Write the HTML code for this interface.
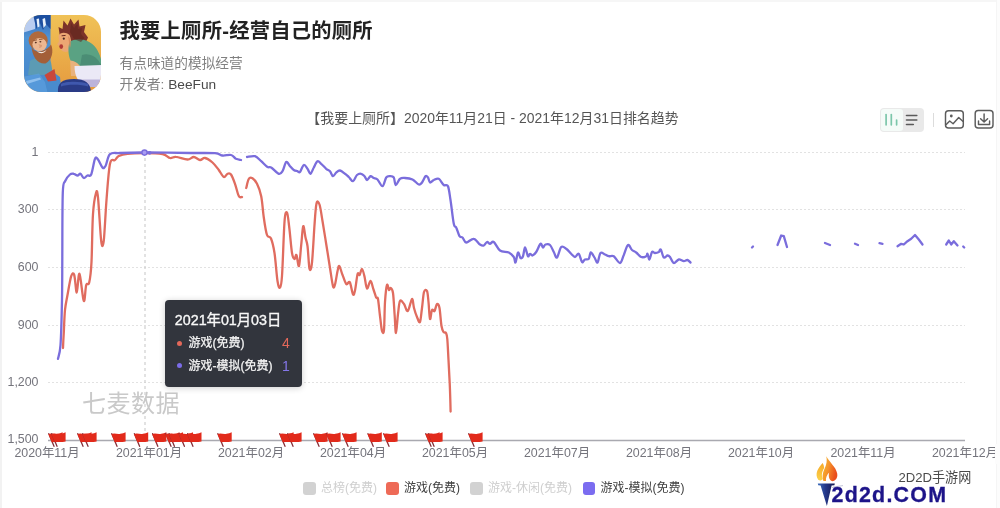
<!DOCTYPE html>
<html lang="zh-CN">
<head>
<meta charset="utf-8">
<title>我要上厕所-经营自己的厕所</title>
<style>
html,body{margin:0;padding:0;background:#fff;}
body{width:1000px;height:508px;position:relative;overflow:hidden;filter:blur(0.45px);font-family:"Liberation Sans","Noto Sans CJK SC",sans-serif;}
.edgeL{position:absolute;left:0;top:0;width:1.5px;height:508px;background:#f2f2f2;}
.edgeR{position:absolute;left:995.5px;top:0;width:4.5px;height:508px;background:#fcfcfc;border-left:1px solid #f5f5f5;box-sizing:border-box;}
.clipR{position:absolute;left:995px;top:444px;width:5px;height:20px;background:#fcfcfc;}
.edgeT{position:absolute;left:0;top:0;width:1000px;height:1.5px;background:#f6f6f6;}
.icon{position:absolute;left:24px;top:15px;width:77px;height:77px;border-radius:17px;overflow:hidden;}
.title{position:absolute;left:119.5px;top:16px;font-size:20.3px;line-height:30px;font-weight:bold;color:#222;white-space:nowrap;letter-spacing:0.25px;}
.sub{position:absolute;left:119.5px;top:53.6px;font-size:13.7px;line-height:20px;color:#808080;white-space:nowrap;}
.dev{position:absolute;left:119.5px;top:75.2px;font-size:13.7px;line-height:20px;color:#808080;white-space:nowrap;}
.dev b{font-weight:normal;color:#4a4a4a;}
.ctitle{position:absolute;left:0;width:985px;top:108px;text-align:center;font-size:13.95px;line-height:20px;color:#555;white-space:nowrap;}
.chart{position:absolute;left:0;top:0;width:1000px;height:508px;}
.ax{font-size:12.4px;fill:#74747c;font-family:"Liberation Sans","Noto Sans CJK SC",sans-serif;}
.wm{font-size:24px;fill:#c9c9c9;font-family:"Liberation Sans","Noto Sans CJK SC",sans-serif;letter-spacing:0.5px;}
.tip{position:absolute;left:164.5px;top:300px;width:137.5px;height:87px;background:#32353d;border-radius:4px;color:#fff;box-shadow:0 1px 6px rgba(0,0,0,.2);}
.tip .d{position:absolute;left:10.3px;top:10px;font-size:14.3px;line-height:20px;white-space:nowrap;color:#f8f8f8;-webkit-text-stroke:0.35px #f8f8f8;}
.tip .r{position:absolute;left:0;width:100%;height:20px;font-size:12px;line-height:20px;white-space:nowrap;color:#f6f6f6;-webkit-text-stroke:0.25px #f6f6f6;}
.tip .r i{position:absolute;left:12.4px;top:7.6px;width:5.2px;height:5.2px;border-radius:50%;}
.tip .r span{position:absolute;left:24px;top:0;}
.tip .r em{position:absolute;font-style:normal;top:0;font-size:14px;-webkit-text-stroke:0;}
.leg{position:absolute;top:478px;height:20px;line-height:20px;font-size:12px;white-space:nowrap;}
.leg i{position:absolute;left:0;top:4px;width:12.5px;height:12.5px;border-radius:3px;}
.leg span{position:absolute;left:18px;top:0;}
.tog{position:absolute;left:879.8px;top:107.5px;width:44.5px;height:24.6px;border-radius:4px;background:#e9e9e9;}
.tog .on{position:absolute;left:1.5px;top:1.5px;width:21.5px;height:21.5px;border-radius:3px;background:#f5fbf8;}
.sep{position:absolute;left:932.6px;top:113px;width:1px;height:14px;background:#dcdcdc;}
.logo1{position:absolute;left:898.5px;top:468.3px;font-size:13.1px;line-height:20px;color:#4a4a4a;white-space:nowrap;}
.logo2{position:absolute;left:831.5px;top:480.5px;font-size:21.4px;line-height:28px;font-weight:bold;color:#1d1489;white-space:nowrap;letter-spacing:1.25px;-webkit-text-stroke:0.3px #1d1489;}
</style>
</head>
<body>
<div class="edgeL"></div><div class="edgeT"></div><div class="edgeR"></div>

<div class="icon">
<svg width="77" height="77" viewBox="0 0 77 77">
<defs>
<linearGradient id="ybg" x1="0" y1="0" x2="0" y2="1"><stop offset="0" stop-color="#f0c257"/><stop offset="1" stop-color="#e59a3e"/></linearGradient>
<linearGradient id="bbg" x1="0" y1="0" x2="0" y2="1"><stop offset="0" stop-color="#2f62b4"/><stop offset="0.3" stop-color="#4f93d4"/><stop offset="1" stop-color="#4685c9"/></linearGradient>
<filter id="ib" x="-5%" y="-5%" width="110%" height="110%"><feGaussianBlur stdDeviation="0.7"/></filter>
</defs>
<rect width="77" height="77" fill="url(#ybg)"/>
<g filter="url(#ib)">
<rect x="-2" y="-2" width="28.5" height="82" fill="url(#bbg)"/>
<path d="M-2,56 L22,52 L36,62 L38,80 L-2,80 Z" fill="#4a8bcd"/>
<path d="M-2,-2 L12,-2 L11,14 L-2,18 Z" fill="#b9cdf0"/>
<path d="M9,-1 L26.5,-1 L26.5,14 L22,9 L19,15 L16,8 L12.5,14 L10.5,6 Z" fill="#1f4fa0"/>
<path d="M12.5,4 L15,3.5 L15.5,11.5 L13.5,12.5 Z M18.5,4 L21,3 L22,10 L19.5,13 Z" fill="#e6f1fb"/>
<!-- old man body -->
<path d="M6,46 C10,42 22,42 27,47 L29,60 L4,60 Z" fill="#5b9bb4"/>
<!-- old man head -->
<ellipse cx="14.2" cy="25.4" rx="9.6" ry="9.2" fill="#b06a3e"/>
<ellipse cx="15.6" cy="29.6" rx="7.2" ry="6.6" fill="#ecb791"/>
<path d="M7.5,31 C9,36 14,37.5 18,36 C21.5,35 25,32.5 27,29.5 C30,36 28,45 21.5,48.5 C14,49.5 8,42 7.5,31 Z" fill="#a35f38"/>
<path d="M13,36 C16,38 20,37 22.5,35 C21,38 16,40 13,36 Z" fill="#f3e6da"/>
<!-- boy hair -->
<path d="M36,22 L34.5,12 L38.5,14 L39.5,5.5 L43.5,10.5 L46.5,3.5 L50,9.5 L54.5,4.5 L55.5,11.5 L61.5,10 L60,17 L64,22.5 L61.5,28 L55,31.5 L46,28 L41,19 Z" fill="#7b3329"/>
<!-- boy face -->
<path d="M34.5,21 C36,17 42,17 45.5,20 C48,25 47.5,33 44,36.5 C40,38 36,35 35.5,31 L33.2,29.5 L35,26.5 Z" fill="#eca773"/>
<ellipse cx="37.2" cy="31.6" rx="1.9" ry="2.4" fill="#b03a36"/>
<!-- legs -->
<path d="M46,44 L55,46 L54,61 L47,61 Z" fill="#e9b27b"/>
<!-- shirt -->
<path d="M45.5,27 C52,22 66,24 72,33 C76,39 78,46 78,51 L56,51 C53,47 50,46 46.5,45.5 C44,40 44,32 45.5,27 Z" fill="#5aa283"/>
<path d="M58,40 C63,38 70,40 74,45 L78,51 L56,51 Z" fill="#4b8d74"/>
<!-- toilet -->
<path d="M50.5,51 L78,50 L78,65 L54,65 C51.5,61 50.5,56 50.5,51 Z" fill="#ebe9f6"/>
<path d="M54,64.5 L78,64.5 L78,72 L57,72 Z" fill="#bcb3da"/>
<!-- plunger -->
<path d="M20.5,60 L30.5,54 L32.5,65.5 L24,66.5 Z" fill="#c9463a"/>
<!-- dark base -->
<path d="M34,78 C33,68 38,64 50,64 C61,64 67,68 67,78 Z" fill="#2b3b86"/>
<path d="M37,69 C41,66 58,66 64,69 L64,71.5 C58,69 42,69 37,71.5 Z" fill="#3f58ad"/>
<ellipse cx="11.8" cy="27.6" rx="1" ry="0.8" fill="#5a3424"/>
<ellipse cx="16.4" cy="26.8" rx="1" ry="0.8" fill="#5a3424"/>
<path d="M9.5,25.6 L13,24.8 M15,24.4 L18.6,24.2" stroke="#8a4e2c" stroke-width="0.9" fill="none"/>
<path d="M14,29 C15.5,30 16,31.5 15,33 C17,33 18.4,31.6 18,30 Z" fill="#d99a74"/>
<ellipse cx="39.8" cy="23.6" rx="1" ry="1.2" fill="#4a2a22"/>
<path d="M37.6,20.8 L41.6,20.4" stroke="#6a2c24" stroke-width="1" fill="none"/>
<path d="M44,21 C46.5,23 47.5,28 46,33 C45,30 45,25 44,21 Z" fill="#d98c5e"/>
<path d="M-2,62 L15,58.5 L21,67 L24,80 L-2,80 Z" fill="#5b9fe0" opacity="0.7"/>
<path d="M2,66 L16,62.6 L17,64.4 L3,69 Z" fill="#9cc8f2" opacity="0.8"/>
<path d="M47,8 L50,13 L53.5,8.5 L54,14 L58,13 L57,19 L60.5,23 L57,27 L50,24 L46,17 Z" fill="#5e231f" opacity="0.55"/>
</g>

</svg>
</div>

<div class="title">我要上厕所-经营自己的厕所</div>
<div class="sub">有点味道的模拟经营</div>
<div class="dev">开发者: <b>BeeFun</b></div>

<div class="ctitle">【我要上厕所】2020年11月21日 - 2021年12月31日排名趋势</div>

<div class="tog"><div class="on"></div>
<svg style="position:absolute;left:0;top:0" width="45" height="25" viewBox="0 0 45 25">
<g stroke="#7cc6aa" stroke-width="1.7" stroke-linecap="round"><line x1="6.1" y1="6.5" x2="6.1" y2="16.8"/><line x1="11.3" y1="6.5" x2="11.3" y2="16.8"/><line x1="16.6" y1="12.1" x2="16.6" y2="16.8"/></g>
<g stroke="#5a5a5a" stroke-width="1.6" stroke-linecap="round"><line x1="26.5" y1="7.5" x2="36.8" y2="7.5"/><line x1="26.5" y1="12" x2="36.8" y2="12"/><line x1="26.5" y1="16.5" x2="33.3" y2="16.5"/></g>
</svg>
</div>
<div class="sep"></div>
<svg style="position:absolute;left:943px;top:108px" width="54" height="23" viewBox="943 108 54 23">
<g fill="none" stroke="#5c5c5c" stroke-width="1.45" stroke-linecap="round" stroke-linejoin="round">
<rect x="945.5" y="110.8" width="17.8" height="17.1" rx="3"/>
<path d="M946.2,124.6 L949.7,121 L953.1,123.7 L958.7,117.5 L962.8,121.2"/>
<rect x="975.2" y="110.5" width="17.8" height="17.4" rx="3"/>
<path d="M984.1,114 L984.1,121.6 M980.6,118.7 L984.1,122.1 L987.6,118.7 M978.5,121 L978.5,124.4 L989.6,124.4 L989.6,121"/>
</g>
<circle cx="951.3" cy="116" r="1.4" fill="#5c5c5c"/>
</svg>

<svg class="chart" width="1000" height="508" viewBox="0 0 1000 508">
<line x1="48" y1="152.5" x2="965" y2="152.5" stroke="#e2e2e2" stroke-width="1" stroke-dasharray="2,2"/>
<line x1="48" y1="209.5" x2="965" y2="209.5" stroke="#e2e2e2" stroke-width="1" stroke-dasharray="2,2"/>
<line x1="48" y1="267.5" x2="965" y2="267.5" stroke="#e2e2e2" stroke-width="1" stroke-dasharray="2,2"/>
<line x1="48" y1="325.5" x2="965" y2="325.5" stroke="#e2e2e2" stroke-width="1" stroke-dasharray="2,2"/>
<line x1="48" y1="382.5" x2="965" y2="382.5" stroke="#e2e2e2" stroke-width="1" stroke-dasharray="2,2"/>
<line x1="145" y1="152" x2="145" y2="440" stroke="#cfcfcf" stroke-width="1.2" stroke-dasharray="3,3"/>
<line x1="48" y1="440.5" x2="965" y2="440.5" stroke="#a9a9b0" stroke-width="1.3"/>
<path d="M63.0,348.0C63.1,345.4 63.4,338.8 63.8,332.5C64.1,326.2 64.4,316.2 65.0,310.0C65.6,303.8 66.5,300.6 67.5,295.0C68.5,289.4 70.1,279.6 71.2,276.2C72.4,272.9 73.3,272.3 74.2,275.0C75.2,277.7 75.9,292.7 76.8,292.5C77.6,292.3 78.3,272.3 79.5,273.8C80.7,275.2 82.6,299.1 83.8,301.0C84.9,302.9 85.3,288.1 86.2,285.0C87.2,281.9 88.4,286.3 89.2,282.5C90.1,278.7 90.9,273.4 91.5,262.0C92.1,250.6 92.2,225.5 93.0,214.0C93.8,202.5 95.2,195.8 96.0,193.0C96.8,190.2 97.1,189.5 98.0,197.5C98.9,205.5 100.3,233.8 101.2,241.0C102.2,248.2 102.9,247.3 103.8,240.5C104.6,233.7 105.5,212.8 106.5,200.0C107.5,187.2 108.6,170.4 110.0,163.8C111.4,157.1 113.5,161.3 115.0,160.0C116.5,158.7 116.7,157.0 118.8,156.0C120.8,155.0 123.1,154.2 127.5,153.8C131.9,153.2 139.2,153.0 145.0,153.0C150.8,153.0 158.3,153.2 162.5,154.0C166.7,154.8 167.8,157.5 170.0,158.0C172.2,158.5 173.1,156.5 176.0,156.8C178.9,157.0 184.5,159.5 187.5,159.5C190.5,159.5 191.7,156.9 193.8,157.0C195.8,157.1 198.1,159.8 200.0,160.0C201.9,160.2 202.9,157.6 205.0,158.0C207.1,158.4 210.2,160.5 212.5,162.5C214.8,164.5 216.9,167.6 218.8,170.0C220.6,172.4 222.3,176.4 223.8,177.0C225.2,177.6 226.3,174.2 227.5,173.8C228.7,173.3 229.8,172.8 231.0,174.5C232.2,176.2 233.7,180.2 235.0,183.8C236.3,187.3 237.6,193.8 238.8,196.0C239.9,198.2 241.5,196.8 242.0,197.0" fill="none" stroke="#e06c5f" stroke-width="2.3" stroke-linecap="round" stroke-linejoin="round"/>
<path d="M246.2,188.0C246.7,186.5 247.7,180.4 248.8,178.8C249.8,177.1 251.1,177.4 252.5,178.2C253.9,179.1 255.5,180.8 257.0,183.8C258.5,186.8 260.1,190.6 261.2,196.2C262.4,201.9 262.8,211.0 263.8,217.5C264.7,224.0 265.8,231.5 267.0,235.0C268.2,238.5 269.8,235.5 271.0,238.5C272.2,241.5 273.4,245.9 274.5,253.0C275.6,260.1 276.6,275.2 277.5,281.0C278.4,286.8 279.2,288.3 280.0,287.5C280.8,286.7 281.2,286.9 282.0,276.0C282.8,265.1 283.7,232.6 284.5,222.0C285.3,211.4 286.2,211.7 287.0,212.5C287.8,213.3 288.4,220.2 289.2,227.0C290.1,233.8 291.1,247.7 292.0,253.0C292.9,258.3 293.8,258.7 294.5,259.0C295.2,259.3 295.8,253.8 296.5,255.0C297.2,256.2 298.2,267.7 299.0,266.0C299.8,264.3 300.5,251.6 301.2,245.0C302.0,238.4 302.5,227.5 303.2,226.2C304.0,225.0 304.8,234.2 305.5,237.5C306.2,240.8 306.8,240.8 307.5,246.0C308.2,251.2 308.8,266.0 309.5,268.8C310.2,271.5 311.2,269.8 312.0,262.5C312.8,255.2 313.8,234.8 314.5,225.0C315.2,215.2 315.7,206.9 316.5,203.5C317.3,200.1 318.5,201.6 319.5,204.5C320.5,207.4 321.4,214.4 322.5,221.0C323.6,227.6 325.0,236.2 326.2,244.0C327.5,251.8 328.9,261.0 330.0,268.0C331.1,275.0 332.2,283.5 333.0,286.2C333.8,289.0 334.2,287.0 335.0,284.5C335.8,282.0 336.8,274.3 337.5,271.2C338.2,268.2 338.5,265.5 339.2,266.0C340.0,266.5 341.1,271.0 342.2,274.0C343.4,277.0 345.0,282.6 346.2,284.0C347.5,285.4 348.6,280.5 349.8,282.2C350.9,284.0 352.1,293.1 353.0,294.5C353.9,295.9 354.2,293.9 355.0,290.5C355.8,287.1 356.8,276.6 357.6,274.0C358.4,271.4 358.9,275.8 359.6,275.0C360.3,274.2 361.2,268.8 362.0,269.0C362.8,269.2 363.7,273.2 364.5,276.5C365.3,279.8 366.0,287.8 367.0,288.5C368.0,289.2 369.4,280.8 370.5,281.0C371.6,281.2 372.5,286.8 373.5,289.5C374.5,292.2 375.5,295.9 376.2,297.5C377.0,299.1 377.4,295.9 378.0,299.0C378.6,302.1 379.3,310.7 380.0,316.0C380.7,321.3 381.3,328.7 382.0,331.0C382.7,333.3 383.5,334.8 384.0,330.0C384.5,325.2 384.5,309.5 385.0,302.0C385.5,294.5 386.3,287.0 387.0,285.0C387.7,283.0 388.4,289.5 389.0,290.0C389.6,290.5 390.0,287.5 390.7,288.0C391.4,288.5 392.3,288.3 393.0,293.0C393.7,297.7 394.2,309.3 394.7,316.0C395.2,322.7 395.4,333.3 396.0,333.0C396.6,332.7 397.3,319.3 398.0,314.0C398.7,308.7 399.0,302.7 400.0,301.0C401.0,299.3 402.7,302.3 404.0,304.0C405.3,305.7 406.4,311.8 407.8,311.0C409.1,310.2 411.0,299.5 412.0,299.0C413.0,298.5 413.2,305.0 414.0,308.0C414.8,311.0 416.0,314.7 417.0,317.0C418.0,319.3 419.2,323.5 420.0,322.0C420.8,320.5 421.3,313.0 422.0,308.0C422.7,303.0 423.2,294.8 424.0,292.0C424.8,289.2 426.2,289.3 427.0,291.0C427.8,292.7 428.0,297.3 428.5,302.0C429.0,306.7 429.4,317.7 430.0,319.0C430.6,320.3 431.2,311.3 432.0,310.0C432.8,308.7 433.7,312.0 434.5,311.0C435.3,310.0 436.2,304.5 437.0,304.0C437.8,303.5 438.8,304.3 439.5,308.0C440.2,311.7 440.8,322.0 441.5,326.0C442.2,330.0 442.8,330.8 443.5,332.0C444.2,333.2 445.4,331.8 446.0,333.0C446.6,334.2 446.9,334.5 447.3,339.0C447.7,343.5 448.1,352.7 448.5,360.0C448.9,367.3 449.3,374.4 449.7,383.0C450.1,391.6 450.5,406.8 450.6,411.5" fill="none" stroke="#e06c5f" stroke-width="2.3" stroke-linecap="round" stroke-linejoin="round"/>
<path d="M58.0,358.8C58.4,356.5 59.8,354.8 60.5,345.0C61.2,335.2 61.7,314.7 62.0,300.0C62.3,285.3 62.2,274.9 62.3,257.0C62.4,239.1 62.3,205.2 62.8,192.5C63.3,179.8 64.0,184.0 65.2,181.0C66.4,178.0 68.6,175.7 70.0,174.5C71.4,173.3 72.5,173.6 73.8,173.8C75.0,173.9 76.4,175.5 77.5,175.5C78.6,175.5 79.5,173.3 80.5,173.8C81.5,174.2 82.6,177.7 83.8,178.0C84.9,178.3 86.2,176.1 87.5,175.5C88.8,174.9 90.0,177.3 91.2,174.5C92.5,171.7 93.9,161.2 95.0,158.8C96.1,156.2 96.8,158.0 98.0,159.5C99.2,161.0 101.2,166.4 102.5,167.5C103.8,168.6 104.2,168.2 105.5,166.0C106.8,163.8 107.6,156.4 110.0,154.2C112.4,152.1 114.2,153.3 120.0,153.0C125.8,152.7 133.3,152.5 145.0,152.5C156.7,152.5 178.3,152.9 190.0,153.0C201.7,153.1 209.6,152.8 215.0,153.2C220.4,153.7 219.8,155.2 222.5,155.5C225.2,155.8 228.8,154.5 231.0,155.0C233.2,155.5 234.3,157.9 236.0,158.8C237.7,159.6 240.2,159.8 241.0,160.0" fill="none" stroke="#7a6ddc" stroke-width="2.3" stroke-linecap="round" stroke-linejoin="round"/>
<path d="M247.0,157.0C248.3,156.9 252.6,155.5 255.0,156.2C257.4,157.0 259.2,159.5 261.2,161.2C263.3,163.0 265.8,166.0 267.5,167.0C269.2,168.0 269.4,166.4 271.2,167.5C273.1,168.6 276.9,173.1 278.8,173.8C280.6,174.4 281.2,173.2 282.5,171.2C283.8,169.3 285.0,162.8 286.2,162.0C287.5,161.2 288.8,164.9 290.0,166.2C291.2,167.6 292.5,169.2 293.8,170.0C295.0,170.8 296.5,170.9 297.5,171.2C298.5,171.6 299.0,173.0 300.0,172.0C301.0,171.0 302.5,165.5 303.8,165.0C305.0,164.5 306.4,167.3 307.5,168.8C308.6,170.2 309.5,174.0 310.5,173.8C311.5,173.5 312.6,169.6 313.8,167.5C314.9,165.4 316.2,161.9 317.5,161.2C318.8,160.6 319.8,162.5 321.2,163.8C322.7,165.0 324.8,167.5 326.2,168.8C327.7,170.0 328.9,170.0 330.0,171.2C331.1,172.5 332.0,176.0 333.0,176.2C334.0,176.5 335.1,173.5 336.2,172.5C337.4,171.5 338.5,170.3 340.0,170.5C341.5,170.7 343.5,172.7 345.0,173.8C346.5,174.8 347.4,175.8 348.8,177.0C350.1,178.2 351.6,181.6 353.0,181.2C354.4,180.9 355.6,176.2 357.0,175.0C358.4,173.8 360.0,173.5 361.2,173.8C362.5,174.0 363.5,175.2 364.5,176.2C365.5,177.3 366.0,180.0 367.0,180.0C368.0,180.0 369.4,176.6 370.5,176.2C371.6,175.9 372.6,177.5 373.8,178.0C374.9,178.5 376.0,178.1 377.5,179.5C379.0,180.9 381.0,186.6 382.5,186.2C384.0,185.9 385.0,179.2 386.2,177.5C387.5,175.8 388.8,176.2 390.0,176.2C391.2,176.2 392.8,176.0 393.8,177.5C394.7,179.0 394.7,184.8 395.8,185.0C396.8,185.2 398.5,179.9 400.0,178.8C401.5,177.6 402.9,177.9 405.0,178.0C407.1,178.1 410.2,178.4 412.5,179.5C414.8,180.6 417.2,184.0 418.8,184.5C420.3,185.0 420.9,183.9 422.0,182.5C423.1,181.1 424.5,177.1 425.5,176.2C426.5,175.4 427.2,176.5 428.0,177.5C428.8,178.5 429.0,182.1 430.0,182.5C431.0,182.9 432.3,180.6 433.8,180.0C435.2,179.4 437.1,177.9 438.8,178.8C440.4,179.6 442.2,183.8 443.8,185.0C445.3,186.2 446.9,183.8 448.0,186.2C449.1,188.8 449.5,193.8 450.5,200.0C451.5,206.2 452.8,219.2 453.8,223.8C454.7,228.3 455.3,225.4 456.2,227.5C457.2,229.6 458.5,234.6 459.5,236.2C460.5,237.9 461.4,236.5 462.5,237.5C463.6,238.5 464.4,242.3 466.2,242.5C468.1,242.7 471.5,238.4 473.8,238.8C476.0,239.1 478.3,243.4 480.0,244.5C481.7,245.6 482.6,245.9 483.8,245.5C484.9,245.1 486.0,242.3 487.0,242.0C488.0,241.7 488.9,243.8 490.0,243.8C491.1,243.8 492.1,240.9 493.8,242.0C495.4,243.1 497.5,248.8 500.0,250.5C502.5,252.2 506.5,251.4 508.8,252.5C511.0,253.6 512.6,255.3 513.8,257.0C514.9,258.7 514.8,263.2 515.5,262.5C516.2,261.8 517.2,253.2 518.0,252.5C518.8,251.8 519.7,257.4 520.5,258.0C521.3,258.6 522.2,258.0 523.0,256.2C523.8,254.5 524.2,247.5 525.0,247.5C525.8,247.5 527.2,255.2 528.0,256.2C528.8,257.3 529.2,253.9 530.0,253.8C530.8,253.6 531.5,255.8 532.5,255.5C533.5,255.2 534.9,254.0 536.2,252.0C537.6,250.0 539.4,244.5 540.5,243.8C541.6,243.0 542.2,247.4 543.0,247.5C543.8,247.6 544.3,244.9 545.5,244.5C546.7,244.1 548.6,243.8 550.0,245.0C551.4,246.2 552.6,249.9 553.8,252.0C554.9,254.1 555.8,258.3 557.0,257.5C558.2,256.7 559.7,248.5 561.2,247.0C562.8,245.5 564.6,247.6 566.2,248.8C567.9,249.9 569.8,252.4 571.2,253.8C572.7,255.1 573.8,257.0 575.0,257.0C576.2,257.0 577.6,252.9 578.8,253.8C579.9,254.6 581.0,261.0 582.0,262.0C583.0,263.0 583.9,260.0 585.0,259.5C586.1,259.0 587.8,259.9 588.8,258.8C589.7,257.6 589.8,252.7 590.8,252.5C591.7,252.3 593.4,255.8 594.5,257.5C595.6,259.2 596.5,263.2 597.5,262.5C598.5,261.8 599.2,254.3 600.5,253.0C601.8,251.7 603.6,254.0 605.0,254.5C606.4,255.0 607.3,256.0 608.8,256.2C610.2,256.5 611.9,255.1 613.8,256.2C615.6,257.4 618.3,263.2 620.0,263.0C621.7,262.8 622.4,258.0 623.8,255.0C625.1,252.0 626.6,245.8 628.0,245.0C629.4,244.2 630.6,248.8 632.0,250.0C633.4,251.2 634.7,251.3 636.2,252.5C637.8,253.7 639.6,256.4 641.2,257.0C642.9,257.6 645.2,256.8 646.2,256.2C647.3,255.7 647.0,253.2 647.5,253.8C648.0,254.3 648.8,259.8 649.5,259.5C650.2,259.2 651.1,253.1 652.0,252.0C652.9,250.9 653.9,253.0 655.0,253.0C656.1,253.0 657.8,252.6 658.8,252.0C659.7,251.4 659.9,248.6 660.8,249.5C661.6,250.4 662.6,256.5 663.8,257.5C664.9,258.5 666.5,255.6 667.5,255.5C668.5,255.4 669.0,255.8 670.0,257.0C671.0,258.2 672.3,262.6 673.8,263.0C675.2,263.4 677.1,259.8 678.8,259.5C680.4,259.2 682.3,261.2 683.8,261.2C685.2,261.3 686.4,259.8 687.5,260.0C688.6,260.2 690.0,262.1 690.5,262.5" fill="none" stroke="#7a6ddc" stroke-width="2.3" stroke-linecap="round" stroke-linejoin="round"/>
<path d="M752.0,247.5L753.0,246.5" fill="none" stroke="#7a6ddc" stroke-width="2.3" stroke-linecap="round" stroke-linejoin="round"/>
<path d="M777.5,245.0L781.2,235.5L783.8,236.2L787.0,247.0" fill="none" stroke="#7a6ddc" stroke-width="2.3" stroke-linecap="round" stroke-linejoin="round"/>
<path d="M825.0,243.0L830.0,245.0" fill="none" stroke="#7a6ddc" stroke-width="2.3" stroke-linecap="round" stroke-linejoin="round"/>
<path d="M855.0,243.8L858.0,245.0" fill="none" stroke="#7a6ddc" stroke-width="2.3" stroke-linecap="round" stroke-linejoin="round"/>
<path d="M879.5,243.2L882.5,243.8" fill="none" stroke="#7a6ddc" stroke-width="2.3" stroke-linecap="round" stroke-linejoin="round"/>
<path d="M897.5,246.2L901.2,243.8L903.8,244.5L907.5,241.2L911.2,238.8L915.0,235.0L918.8,239.5L922.5,244.5" fill="none" stroke="#7a6ddc" stroke-width="2.3" stroke-linecap="round" stroke-linejoin="round"/>
<path d="M946.2,244.5L948.8,240.5L951.2,244.5L953.8,241.2L957.5,245.5" fill="none" stroke="#7a6ddc" stroke-width="2.3" stroke-linecap="round" stroke-linejoin="round"/>
<path d="M963.2,246.5L964.2,247.5" fill="none" stroke="#7a6ddc" stroke-width="2.3" stroke-linecap="round" stroke-linejoin="round"/>
<circle cx="144.5" cy="152.6" r="2.6" fill="#a99cf2" stroke="#7a6ddc" stroke-width="1.4"/>
<circle cx="149.6" cy="152.8" r="1.9" fill="#7a6ddc"/>
<g transform="translate(48.4,432.7)"><path d="M0.4,1 L5.6,13.6" stroke="#85303a" stroke-width="1.3" stroke-linecap="round"/><path d="M0,1.6 C3,-0.5 6,2.2 9,1.1 C11,0.4 12.6,0.5 14.2,-0.5 L14.2,8.7 C10,9.6 7,8.8 3.4,9.6 Z" fill="#e22a1b"/></g>
<g transform="translate(51.4,432.7)"><path d="M0.4,1 L5.6,13.6" stroke="#85303a" stroke-width="1.3" stroke-linecap="round"/><path d="M0,1.6 C3,-0.5 6,2.2 9,1.1 C11,0.4 12.6,0.5 14.2,-0.5 L14.2,8.7 C10,9.6 7,8.8 3.4,9.6 Z" fill="#e22a1b"/></g>
<g transform="translate(77.4,432.7)"><path d="M0.4,1 L5.6,13.6" stroke="#85303a" stroke-width="1.3" stroke-linecap="round"/><path d="M0,1.6 C3,-0.5 6,2.2 9,1.1 C11,0.4 12.6,0.5 14.2,-0.5 L14.2,8.7 C10,9.6 7,8.8 3.4,9.6 Z" fill="#e22a1b"/></g>
<g transform="translate(82.4,432.7)"><path d="M0.4,1 L5.6,13.6" stroke="#85303a" stroke-width="1.3" stroke-linecap="round"/><path d="M0,1.6 C3,-0.5 6,2.2 9,1.1 C11,0.4 12.6,0.5 14.2,-0.5 L14.2,8.7 C10,9.6 7,8.8 3.4,9.6 Z" fill="#e22a1b"/></g>
<g transform="translate(111.4,432.7)"><path d="M0.4,1 L5.6,13.6" stroke="#85303a" stroke-width="1.3" stroke-linecap="round"/><path d="M0,1.6 C3,-0.5 6,2.2 9,1.1 C11,0.4 12.6,0.5 14.2,-0.5 L14.2,8.7 C10,9.6 7,8.8 3.4,9.6 Z" fill="#e22a1b"/></g>
<g transform="translate(134.0,432.7)"><path d="M0.4,1 L5.6,13.6" stroke="#85303a" stroke-width="1.3" stroke-linecap="round"/><path d="M0,1.6 C3,-0.5 6,2.2 9,1.1 C11,0.4 12.6,0.5 14.2,-0.5 L14.2,8.7 C10,9.6 7,8.8 3.4,9.6 Z" fill="#e22a1b"/></g>
<g transform="translate(152.2,432.7)"><path d="M0.4,1 L5.6,13.6" stroke="#85303a" stroke-width="1.3" stroke-linecap="round"/><path d="M0,1.6 C3,-0.5 6,2.2 9,1.1 C11,0.4 12.6,0.5 14.2,-0.5 L14.2,8.7 C10,9.6 7,8.8 3.4,9.6 Z" fill="#e22a1b"/></g>
<g transform="translate(165.4,432.7)"><path d="M0.4,1 L5.6,13.6" stroke="#85303a" stroke-width="1.3" stroke-linecap="round"/><path d="M0,1.6 C3,-0.5 6,2.2 9,1.1 C11,0.4 12.6,0.5 14.2,-0.5 L14.2,8.7 C10,9.6 7,8.8 3.4,9.6 Z" fill="#e22a1b"/></g>
<g transform="translate(168.8,432.7)"><path d="M0.4,1 L5.6,13.6" stroke="#85303a" stroke-width="1.3" stroke-linecap="round"/><path d="M0,1.6 C3,-0.5 6,2.2 9,1.1 C11,0.4 12.6,0.5 14.2,-0.5 L14.2,8.7 C10,9.6 7,8.8 3.4,9.6 Z" fill="#e22a1b"/></g>
<g transform="translate(178.8,432.7)"><path d="M0.4,1 L5.6,13.6" stroke="#85303a" stroke-width="1.3" stroke-linecap="round"/><path d="M0,1.6 C3,-0.5 6,2.2 9,1.1 C11,0.4 12.6,0.5 14.2,-0.5 L14.2,8.7 C10,9.6 7,8.8 3.4,9.6 Z" fill="#e22a1b"/></g>
<g transform="translate(187.3,432.7)"><path d="M0.4,1 L5.6,13.6" stroke="#85303a" stroke-width="1.3" stroke-linecap="round"/><path d="M0,1.6 C3,-0.5 6,2.2 9,1.1 C11,0.4 12.6,0.5 14.2,-0.5 L14.2,8.7 C10,9.6 7,8.8 3.4,9.6 Z" fill="#e22a1b"/></g>
<g transform="translate(217.5,432.7)"><path d="M0.4,1 L5.6,13.6" stroke="#85303a" stroke-width="1.3" stroke-linecap="round"/><path d="M0,1.6 C3,-0.5 6,2.2 9,1.1 C11,0.4 12.6,0.5 14.2,-0.5 L14.2,8.7 C10,9.6 7,8.8 3.4,9.6 Z" fill="#e22a1b"/></g>
<g transform="translate(279.4,432.7)"><path d="M0.4,1 L5.6,13.6" stroke="#85303a" stroke-width="1.3" stroke-linecap="round"/><path d="M0,1.6 C3,-0.5 6,2.2 9,1.1 C11,0.4 12.6,0.5 14.2,-0.5 L14.2,8.7 C10,9.6 7,8.8 3.4,9.6 Z" fill="#e22a1b"/></g>
<g transform="translate(287.4,432.7)"><path d="M0.4,1 L5.6,13.6" stroke="#85303a" stroke-width="1.3" stroke-linecap="round"/><path d="M0,1.6 C3,-0.5 6,2.2 9,1.1 C11,0.4 12.6,0.5 14.2,-0.5 L14.2,8.7 C10,9.6 7,8.8 3.4,9.6 Z" fill="#e22a1b"/></g>
<g transform="translate(313.4,432.7)"><path d="M0.4,1 L5.6,13.6" stroke="#85303a" stroke-width="1.3" stroke-linecap="round"/><path d="M0,1.6 C3,-0.5 6,2.2 9,1.1 C11,0.4 12.6,0.5 14.2,-0.5 L14.2,8.7 C10,9.6 7,8.8 3.4,9.6 Z" fill="#e22a1b"/></g>
<g transform="translate(326.4,432.7)"><path d="M0.4,1 L5.6,13.6" stroke="#85303a" stroke-width="1.3" stroke-linecap="round"/><path d="M0,1.6 C3,-0.5 6,2.2 9,1.1 C11,0.4 12.6,0.5 14.2,-0.5 L14.2,8.7 C10,9.6 7,8.8 3.4,9.6 Z" fill="#e22a1b"/></g>
<g transform="translate(342.4,432.7)"><path d="M0.4,1 L5.6,13.6" stroke="#85303a" stroke-width="1.3" stroke-linecap="round"/><path d="M0,1.6 C3,-0.5 6,2.2 9,1.1 C11,0.4 12.6,0.5 14.2,-0.5 L14.2,8.7 C10,9.6 7,8.8 3.4,9.6 Z" fill="#e22a1b"/></g>
<g transform="translate(367.6,432.7)"><path d="M0.4,1 L5.6,13.6" stroke="#85303a" stroke-width="1.3" stroke-linecap="round"/><path d="M0,1.6 C3,-0.5 6,2.2 9,1.1 C11,0.4 12.6,0.5 14.2,-0.5 L14.2,8.7 C10,9.6 7,8.8 3.4,9.6 Z" fill="#e22a1b"/></g>
<g transform="translate(383.4,432.7)"><path d="M0.4,1 L5.6,13.6" stroke="#85303a" stroke-width="1.3" stroke-linecap="round"/><path d="M0,1.6 C3,-0.5 6,2.2 9,1.1 C11,0.4 12.6,0.5 14.2,-0.5 L14.2,8.7 C10,9.6 7,8.8 3.4,9.6 Z" fill="#e22a1b"/></g>
<g transform="translate(425.4,432.7)"><path d="M0.4,1 L5.6,13.6" stroke="#85303a" stroke-width="1.3" stroke-linecap="round"/><path d="M0,1.6 C3,-0.5 6,2.2 9,1.1 C11,0.4 12.6,0.5 14.2,-0.5 L14.2,8.7 C10,9.6 7,8.8 3.4,9.6 Z" fill="#e22a1b"/></g>
<g transform="translate(428.4,432.7)"><path d="M0.4,1 L5.6,13.6" stroke="#85303a" stroke-width="1.3" stroke-linecap="round"/><path d="M0,1.6 C3,-0.5 6,2.2 9,1.1 C11,0.4 12.6,0.5 14.2,-0.5 L14.2,8.7 C10,9.6 7,8.8 3.4,9.6 Z" fill="#e22a1b"/></g>
<g transform="translate(468.4,432.7)"><path d="M0.4,1 L5.6,13.6" stroke="#85303a" stroke-width="1.3" stroke-linecap="round"/><path d="M0,1.6 C3,-0.5 6,2.2 9,1.1 C11,0.4 12.6,0.5 14.2,-0.5 L14.2,8.7 C10,9.6 7,8.8 3.4,9.6 Z" fill="#e22a1b"/></g>
<text x="38.5" y="155.7" text-anchor="end" class="ax">1</text>
<text x="38.5" y="212.7" text-anchor="end" class="ax">300</text>
<text x="38.5" y="270.7" text-anchor="end" class="ax">600</text>
<text x="38.5" y="328.7" text-anchor="end" class="ax">900</text>
<text x="38.5" y="385.7" text-anchor="end" class="ax">1,200</text>
<text x="38.5" y="443.2" text-anchor="end" class="ax">1,500</text>
<text x="47.0" y="457.4" text-anchor="middle" class="ax">2020年11月</text>
<text x="149.0" y="457.4" text-anchor="middle" class="ax">2021年01月</text>
<text x="251.0" y="457.4" text-anchor="middle" class="ax">2021年02月</text>
<text x="353.0" y="457.4" text-anchor="middle" class="ax">2021年04月</text>
<text x="455.0" y="457.4" text-anchor="middle" class="ax">2021年05月</text>
<text x="557.0" y="457.4" text-anchor="middle" class="ax">2021年07月</text>
<text x="659.0" y="457.4" text-anchor="middle" class="ax">2021年08月</text>
<text x="761.0" y="457.4" text-anchor="middle" class="ax">2021年10月</text>
<text x="863.0" y="457.4" text-anchor="middle" class="ax">2021年11月</text>
<text x="965.0" y="457.4" text-anchor="middle" class="ax">2021年12月</text>
<text x="82" y="411.5" class="wm">七麦数据</text>
</svg>

<div class="clipR"></div>
<div class="tip">
<div class="d">2021年01月03日</div>
<div class="r" style="top:33px"><i style="background:#e3685a"></i><span>游戏(免费)</span><em style="left:117.5px;color:#e3685a">4</em></div>
<div class="r" style="top:55.5px"><i style="background:#7b6ce8"></i><span>游戏-模拟(免费)</span><em style="left:117.5px;color:#8577ea">1</em></div>
</div>

<div class="leg" style="left:303px;color:#cfcfcf"><i style="background:#d2d2d2"></i><span>总榜(免费)</span></div>
<div class="leg" style="left:386px;color:#404040"><i style="background:#ee6a57"></i><span>游戏(免费)</span></div>
<div class="leg" style="left:470px;color:#cfcfcf"><i style="background:#d2d2d2"></i><span>游戏-休闲(免费)</span></div>
<div class="leg" style="left:582.5px;color:#404040"><i style="background:#7b6cf0"></i><span>游戏-模拟(免费)</span></div>

<svg style="position:absolute;left:810px;top:450px" width="36" height="58" viewBox="810 450 36 58">
<defs>
<linearGradient id="fl" x1="0" y1="0" x2="1" y2="0.4"><stop offset="0" stop-color="#f9bd2e"/><stop offset="0.5" stop-color="#f4912a"/><stop offset="1" stop-color="#ea4e1c"/></linearGradient>
<linearGradient id="fl2" x1="0" y1="0" x2="0" y2="1"><stop offset="0" stop-color="#f6a928"/><stop offset="1" stop-color="#fbd24a"/></linearGradient>
<linearGradient id="hd" x1="0" y1="0" x2="1" y2="0"><stop offset="0" stop-color="#3d6dbd"/><stop offset="0.45" stop-color="#24388a"/><stop offset="1" stop-color="#15184f"/></linearGradient>
</defs>
<path d="M822.7,463 C818.4,467.6 814.2,473.6 818.2,479.8 C819.8,481 821.6,480.6 822.8,479 C820.8,474.6 822.6,470.6 824.2,468 C824,466 823.5,464.4 822.7,463 Z" fill="url(#fl2)"/>
<path d="M826.3,456.3 C829,462 835.8,466.6 837.2,473.4 C838,478 835.4,480.6 832.4,481.2 C829,480 828.2,476 829.2,472.4 C827,474.6 825.4,478 826,481 L823.4,481 C821.6,476 823.4,471 825,467.8 C826.6,464.4 827.2,460.4 826.3,456.3 Z" fill="url(#fl)"/>
<path d="M817.8,483.4 L834.8,483.4 L834.4,485.3 L831.6,485.6 L826.9,506 L820.6,485.6 L818.2,485.3 Z" fill="url(#hd)"/>
<path d="M832,487.4 L841.5,489.4 M833,487 L843,485.6" stroke="#8a8fb5" stroke-width="0.5" fill="none"/>

</svg>
<div class="logo1">2D2D手游网</div>
<div class="logo2">2d2d.COM</div>
</body>
</html>
